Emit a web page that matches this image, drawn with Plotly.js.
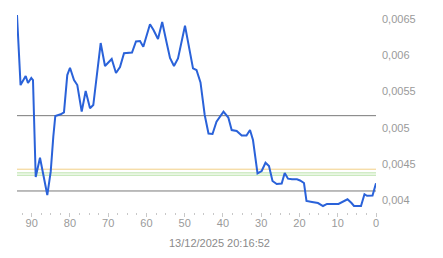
<!DOCTYPE html>
<html>
<head>
<meta charset="utf-8">
<script src="https://cdn.plot.ly/plotly-3.0.1.min.js"></script>
<style>html,body{margin:0;padding:0;background:#fff;}#chart{width:443px;height:258px;}</style>
</head>
<body>
<div id="chart"></div>
<script>
// ages (units before the timestamp) and values
const ages = [93.83, 92.9, 91.56, 90.96, 90.09, 89.65, 88.94, 87.82, 85.91, 85.02, 84.34, 83.82, 82.41, 81.55, 80.69, 79.98, 78.93, 78.07, 76.92, 75.88, 74.75, 73.89, 71.96, 70.83, 69.08, 67.96, 66.91, 65.86, 63.77, 62.73, 61.68, 60.82, 59.07, 58.15, 56.98, 55.88, 54.76, 53.84, 52.8, 51.75, 49.92, 49.14, 47.83, 46.92, 45.87, 44.77, 43.78, 42.73, 41.69, 39.86, 38.6, 37.72, 36.41, 35.1, 33.85, 32.93, 32.15, 30.97, 29.88, 28.88, 27.97, 27.05, 25.95, 24.65, 23.86, 23.0, 21.95, 20.65, 19.86, 18.82, 18.17, 16.73, 15.16, 13.85, 12.81, 9.8, 8.63, 7.45, 6.4, 5.75, 3.92, 3.01, 2.35, 0.91, 0];
const values = [0.00656, 0.00559, 0.005716, 0.005619, 0.005688, 0.00566, 0.004318, 0.004585, 0.004069, 0.004392, 0.004876, 0.005162, 0.005186, 0.005213, 0.005729, 0.00583, 0.00566, 0.005591, 0.005222, 0.005508, 0.005269, 0.005314, 0.006172, 0.005854, 0.005951, 0.005757, 0.00584, 0.00603, 0.006041, 0.006193, 0.0062, 0.006121, 0.006431, 0.006352, 0.006227, 0.006463, 0.006186, 0.005965, 0.005854, 0.00596, 0.006411, 0.00619, 0.005822, 0.005799, 0.005626, 0.005176, 0.00492, 0.004913, 0.005083, 0.005222, 0.005141, 0.004968, 0.004955, 0.004892, 0.004892, 0.004968, 0.00483, 0.004369, 0.004401, 0.004516, 0.00447, 0.004263, 0.004221, 0.004228, 0.004374, 0.004295, 0.004286, 0.004286, 0.00427, 0.004235, 0.003986, 0.003972, 0.003958, 0.003917, 0.003945, 0.003945, 0.003972, 0.00401, 0.003958, 0.003917, 0.003917, 0.00408, 0.004059, 0.004062, 0.004231];
// horizontal reference levels
const grayLevels = [0.005167, 0.004125];
const yellowLevels = [0.004426];
const greenLevels = [0.004375, 0.004343];
const timestampLabel = "13/12/2025 20:16:52";

const shapes = [];
function addLevels(levels, color) {
  levels.forEach(v => shapes.push({
    type: 'line', xref: 'paper', x0: 0, x1: 1, yref: 'y', y0: v, y1: v,
    line: {color: color, width: 1}, layer: 'below'
  }));
}
addLevels(grayLevels, '#7a7a7a');
addLevels(yellowLevels, '#f2cf86');
addLevels(greenLevels, '#b5e0a3');

const trace = {
  x: ages, y: values, type: 'scatter', mode: 'lines',
  line: {color: '#2a62d9', width: 2},
  hoverinfo: 'skip'
};

const layout = {
  width: 443, height: 258,
  margin: {l: 17, r: 67, t: 5, b: 46},
  paper_bgcolor: '#ffffff', plot_bgcolor: '#ffffff',
  separators: ',.',
  showlegend: false,
  font: {family: 'Arial, "Liberation Sans", sans-serif', size: 11, color: '#9a9a9a'},
  xaxis: {
    range: [93.83, 0], autorange: false,
    showgrid: false, zeroline: false, showline: false,
    tick0: 0, dtick: 10,
    ticks: 'outside', ticklen: 4, tickcolor: '#c8c8c8', tickwidth: 1,
    ticklabelstandoff: -3,
    minor: {dtick: 2.5, ticks: 'outside', ticklen: 2, tickcolor: '#c8c8c8', showgrid: false},
    tickfont: {size: 11, color: '#9a9a9a'}
  },
  yaxis: {
    side: 'right',
    range: [0.003834, 0.006698], autorange: false,
    showgrid: false, zeroline: false, showline: false,
    tick0: 0, dtick: 0.0005, ticks: '',
    ticklabelstandoff: 5,
    tickfont: {size: 11, color: '#9a9a9a'}
  },
  shapes: shapes,
  annotations: [{
    text: timestampLabel, xref: 'paper', yref: 'paper',
    x: 0.564, y: -0.112, xanchor: 'center', yanchor: 'top',
    showarrow: false, font: {size: 11, color: '#8a8a8a'}
  }]
};

Plotly.newPlot('chart', [trace], layout, {staticPlot: true, displayModeBar: false});
</script>
</body>
</html>
